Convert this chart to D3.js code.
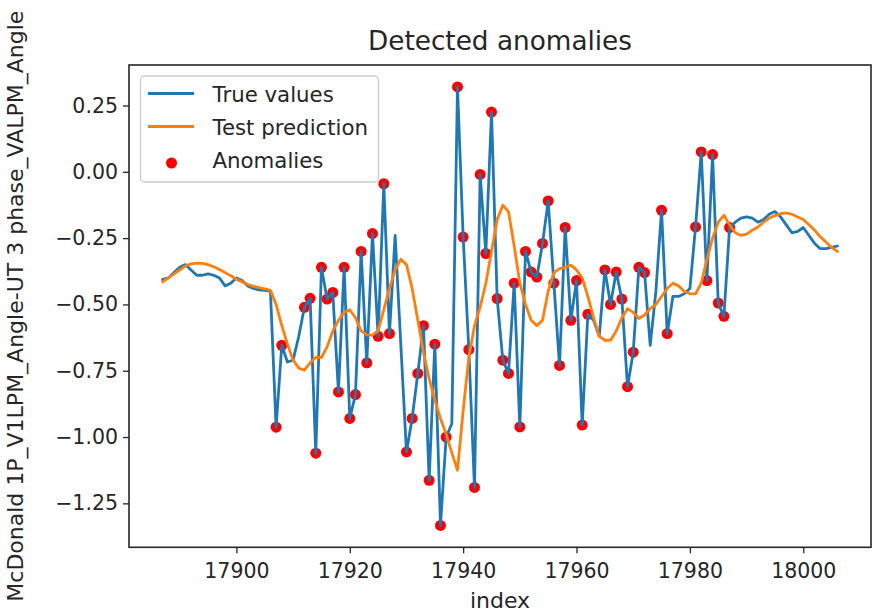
<!DOCTYPE html>
<html>
<head>
<meta charset="utf-8">
<script src="https://cdn.jsdelivr.net/npm/d3@7"></script>
<style>
  html, body { margin: 0; padding: 0; background: #fff; }
  svg text { font-family: "DejaVu Sans", sans-serif; fill: #262626; }
</style>
</head>
<body>
<svg id="chart" width="878" height="614"></svg>
<script>
// ---------- data ----------
const startIndex = 17887;
const trueValues = [
  -0.406, -0.40, -0.38, -0.36, -0.35, -0.37, -0.39, -0.39, -0.385, -0.39,
  -0.40, -0.43, -0.42, -0.40, -0.41, -0.43, -0.44, -0.445, -0.447, -0.45,
  -0.963, -0.654, -0.717, -0.71, -0.62, -0.511, -0.477, -1.061, -0.36, -0.48,
  -0.455, -0.83, -0.36, -0.93, -0.84, -0.30, -0.72, -0.233, -0.62, -0.045,
  -0.61, -0.24, -0.65, -1.056, -0.93, -0.76, -0.58, -1.163, -0.65, -1.333,
  -1.0, -0.95, 0.32, -0.246, -0.67, -1.19, -0.01, -0.308, 0.225, -0.478,
  -0.71, -0.76, -0.42, -0.962, -0.30, -0.378, -0.397, -0.27, -0.11, -0.42,
  -0.73, -0.21, -0.56, -0.41, -0.955, -0.537, -0.56, -0.62, -0.37, -0.50,
  -0.378, -0.48, -0.81, -0.68, -0.36, -0.38, -0.654, -0.45, -0.145, -0.61,
  -0.47, -0.47, -0.46, -0.44, -0.208, 0.075, -0.41, 0.065, -0.495, -0.545,
  -0.21, -0.19, -0.175, -0.17, -0.175, -0.19, -0.18, -0.16, -0.15, -0.17,
  -0.20, -0.23, -0.225, -0.21, -0.24, -0.27, -0.29, -0.29, -0.285, -0.28
];
const predValues = [
  -0.415, -0.40, -0.385, -0.37, -0.355, -0.347, -0.344, -0.345, -0.35, -0.358,
  -0.368, -0.38, -0.392, -0.405, -0.415, -0.425, -0.432, -0.437, -0.441, -0.447,
  -0.50, -0.58, -0.65, -0.71, -0.74, -0.748, -0.72, -0.70, -0.70, -0.66,
  -0.60, -0.56, -0.53, -0.52, -0.55, -0.60, -0.615, -0.616, -0.60, -0.52,
  -0.44, -0.37, -0.33, -0.35, -0.44, -0.56, -0.68, -0.78, -0.86, -0.93,
  -0.99, -1.06, -1.125, -0.90, -0.70, -0.58, -0.51, -0.42, -0.30, -0.18,
  -0.126, -0.15, -0.28, -0.42, -0.50, -0.56, -0.58, -0.56, -0.45, -0.38,
  -0.365, -0.36, -0.352, -0.37, -0.40, -0.47, -0.55, -0.62, -0.635, -0.635,
  -0.60, -0.55, -0.516, -0.53, -0.553, -0.54, -0.516, -0.50, -0.47, -0.44,
  -0.42, -0.43, -0.45, -0.46, -0.46, -0.42, -0.33, -0.25, -0.19, -0.164,
  -0.20, -0.23, -0.24, -0.235, -0.22, -0.208, -0.19, -0.175, -0.165, -0.158,
  -0.155, -0.16, -0.17, -0.18, -0.20, -0.22, -0.245, -0.265, -0.285, -0.30
];
const anomalyIndex = [
  17907, 17908, 17912, 17913, 17914, 17915, 17916, 17917, 17918, 17919,
  17920, 17921, 17922, 17923, 17924, 17925, 17926, 17927, 17930, 17931,
  17932, 17933, 17934, 17935, 17936, 17937, 17939, 17940, 17941, 17942,
  17943, 17944, 17945, 17946, 17947, 17948, 17949, 17950, 17951, 17952,
  17953, 17954, 17955, 17956, 17957, 17958, 17959, 17960, 17961, 17962,
  17965, 17966, 17967, 17968, 17969, 17970, 17971, 17972, 17975, 17976,
  17981, 17982, 17983, 17984, 17985, 17986, 17987
];
const xTicks = [17900, 17920, 17940, 17960, 17980, 18000];
const yTicks = [-1.25, -1.00, -0.75, -0.50, -0.25, 0.00, 0.25];
const titleText = "Detected anomalies";
const xLabel = "index";
const yLabel = "McDonald 1P_V1LPM_Angle-UT 3 phase_VALPM_Angle";
const legendLabels = ["True values", "Test prediction", "Anomalies"];

// ---------- build ----------
const indices = trueValues.map((_, i) => startIndex + i);
const rows = indices.map((ix, i) => ({ ix, t: trueValues[i], p: predValues[i] }));
const anomalies = rows.filter(r => anomalyIndex.includes(r.ix));

const L = 129, R = 871, T = 65, B = 547.3;
const svg = d3.select("#chart");

const xExt = d3.extent(indices);
const xPad = (xExt[1] - xExt[0]) * 0.05;
const x = d3.scaleLinear().domain([xExt[0] - xPad, xExt[1] + xPad]).range([L, R]);
const yExt = d3.extent(trueValues.concat(predValues));
const yPad = (yExt[1] - yExt[0]) * 0.05;
const y = d3.scaleLinear().domain([yExt[0] - yPad, yExt[1] + yPad]).range([B, T]);

const fmtY = v => d3.format(".2f")(v).replace("-", "\u2212");

// axes
const xAxis = d3.axisBottom(x).tickValues(xTicks).tickFormat(d3.format("d")).tickSize(6).tickPadding(5);
const yAxis = d3.axisLeft(y).tickValues(yTicks).tickFormat(fmtY).tickSize(6).tickPadding(5);

const gx = svg.append("g").attr("transform", `translate(0,${B})`).call(xAxis);
const gy = svg.append("g").attr("transform", `translate(${L},0)`).call(yAxis);
[gx, gy].forEach(g => {
  g.select(".domain").remove();
  g.selectAll(".tick line").attr("stroke", "#262626").attr("stroke-width", 1.3);
  g.selectAll(".tick text").attr("font-size", 20.5).attr("fill", "#262626")
    .attr("font-family", "DejaVu Sans, sans-serif");
});
gx.selectAll(".tick text").attr("dy", "0.95em");

// clip
svg.append("clipPath").attr("id", "clip").append("rect")
  .attr("x", L).attr("y", T).attr("width", R - L).attr("height", B - T);
const plot = svg.append("g").attr("clip-path", "url(#clip)");

// anomalies (drawn under the lines)
plot.selectAll("circle.anom").data(anomalies).join("circle")
  .attr("class", "anom")
  .attr("cx", d => x(d.ix)).attr("cy", d => y(d.t))
  .attr("r", 5.5).attr("fill", "#ff0000");

const lineT = d3.line().x(d => x(d.ix)).y(d => y(d.t));
const lineP = d3.line().x(d => x(d.ix)).y(d => y(d.p));
plot.append("path").datum(rows).attr("d", lineT)
  .attr("fill", "none").attr("stroke", "#1f77b4").attr("stroke-width", 2.8)
  .attr("stroke-linejoin", "round").attr("stroke-linecap", "square");
plot.append("path").datum(rows).attr("d", lineP)
  .attr("fill", "none").attr("stroke", "#ff7f0e").attr("stroke-width", 2.8)
  .attr("stroke-linejoin", "round").attr("stroke-linecap", "square");

// frame
svg.append("rect").attr("x", L).attr("y", T).attr("width", R - L).attr("height", B - T)
  .attr("fill", "none").attr("stroke", "#262626").attr("stroke-width", 1.6);

// title and labels
svg.append("text").attr("x", (L + R) / 2).attr("y", 50).attr("text-anchor", "middle")
  .attr("font-size", 26.3).text(titleText);
svg.append("text").attr("x", (L + R) / 2).attr("y", 608).attr("text-anchor", "middle")
  .attr("font-size", 22).text(xLabel);
svg.append("text").attr("transform", `translate(23,${(T + B) / 2}) rotate(-90)`)
  .attr("text-anchor", "middle").attr("font-size", 22).text(yLabel);

// legend
const lg = svg.append("g");
lg.append("rect").attr("x", 140.5).attr("y", 76).attr("width", 238).attr("height", 106)
  .attr("rx", 4).attr("fill", "#fff").attr("fill-opacity", 0.8)
  .attr("stroke", "#cccccc").attr("stroke-width", 1.3);
const colors = ["#1f77b4", "#ff7f0e"];
[93.5, 126.5].forEach((yy, i) => {
  lg.append("line").attr("x1", 148).attr("x2", 194).attr("y1", yy).attr("y2", yy)
    .attr("stroke", colors[i]).attr("stroke-width", 2.8);
});
lg.append("circle").attr("cx", 171.5).attr("cy", 163).attr("r", 5.5).attr("fill", "#ff0000");
[101.5, 134.5, 168].forEach((yy, i) => {
  lg.append("text").attr("x", 212.5).attr("y", yy).attr("font-size", 21.3).text(legendLabels[i]);
});
</script>
</body>
</html>
